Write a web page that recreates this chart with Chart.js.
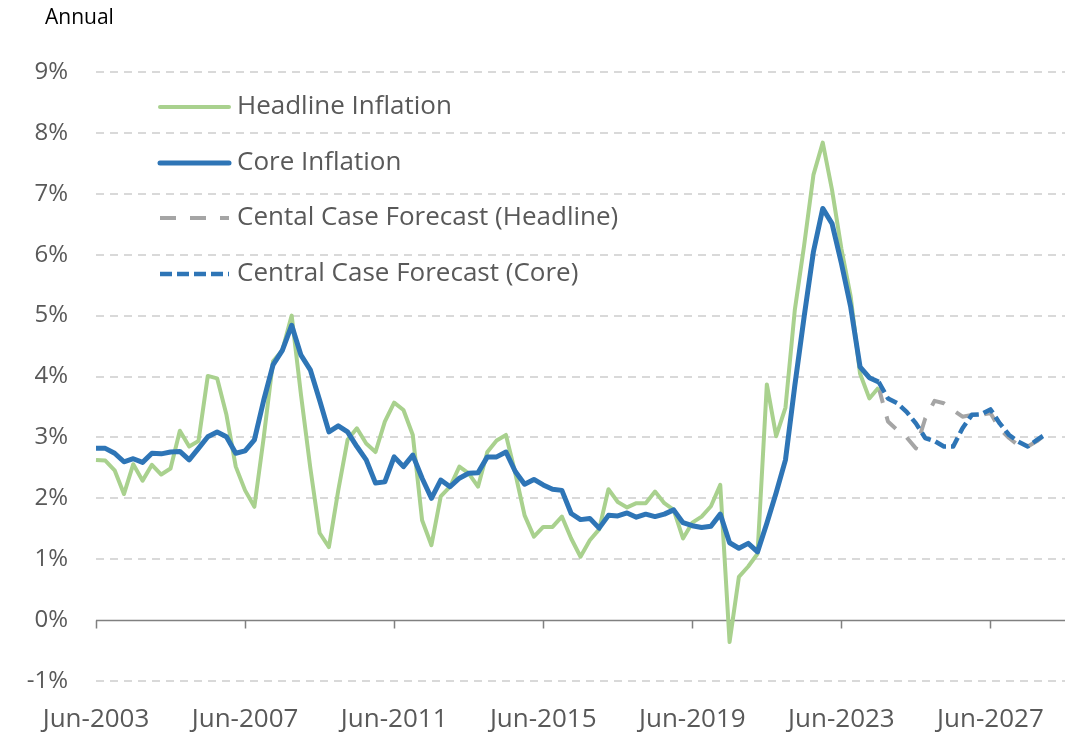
<!DOCTYPE html>
<html>
<head>
<meta charset="utf-8">
<script src="https://cdn.jsdelivr.net/npm/chart.js@4.4.1/dist/chart.umd.min.js"></script>
<style>
  html, body { margin: 0; padding: 0; background: #fff; }
</style>
</head>
<body>
<canvas id="myChart" width="1082" height="735"></canvas>
<script>
// quarterly categories, Jun-2003 .. Jun-2029
var quarterNames = ["Mar", "Jun", "Sep", "Dec"];
var quarters = [];
for (var yr = 2003; yr <= 2029; yr++) {
  for (var q = 0; q < 4; q++) {
    if (yr === 2003 && q === 0) continue;
    if (yr === 2029 && q > 1) continue;
    quarters.push(quarterNames[q] + "-" + yr);
  }
}
var xTickLabels = ["Jun-2003", "Jun-2007", "Jun-2011", "Jun-2015", "Jun-2019", "Jun-2023", "Jun-2027"];
var yTickValues = [-1, 0, 1, 2, 3, 4, 5, 6, 7, 8, 9];

// Headline Inflation, Jun-2003 .. Jun-2024
var headline = [
  2.63, 2.62, 2.46, 2.07, 2.56, 2.29, 2.55, 2.39, 2.49, 3.11, 2.85, 2.94,
  4.01, 3.97, 3.37, 2.52, 2.13, 1.86, 3.00, 4.25, 4.43, 5.00, 3.70, 2.50,
  1.43, 1.20, 2.13, 2.96, 3.15, 2.90, 2.76, 3.26, 3.57, 3.45, 3.04, 1.64,
  1.23, 2.03, 2.19, 2.52, 2.41, 2.19, 2.76, 2.95, 3.04, 2.41, 1.72, 1.37,
  1.53, 1.53, 1.70, 1.34, 1.04, 1.31, 1.49, 2.15, 1.94, 1.85, 1.92, 1.92,
  2.11, 1.92, 1.81, 1.34, 1.60, 1.70, 1.87, 2.22, -0.36, 0.71, 0.88, 1.09,
  3.87, 3.02, 3.49, 5.09, 6.15, 7.31, 7.84, 7.06, 6.10, 5.31, 4.05, 3.64,
  3.82
];
// Core Inflation, Jun-2003 .. Jun-2024
var core = [
  2.82, 2.82, 2.74, 2.60, 2.65, 2.59, 2.74, 2.73, 2.76, 2.77, 2.63, 2.82,
  3.01, 3.09, 3.01, 2.74, 2.78, 2.96, 3.61, 4.19, 4.43, 4.84, 4.35, 4.11,
  3.61, 3.09, 3.19, 3.09, 2.85, 2.63, 2.25, 2.27, 2.68, 2.52, 2.71, 2.33,
  2.00, 2.30, 2.19, 2.33, 2.41, 2.42, 2.68, 2.68, 2.76, 2.44, 2.23, 2.31,
  2.22, 2.15, 2.13, 1.75, 1.65, 1.67, 1.51, 1.72, 1.71, 1.76, 1.69, 1.74,
  1.70, 1.74, 1.81, 1.60, 1.55, 1.52, 1.54, 1.74, 1.27, 1.18, 1.26, 1.12,
  1.59, 2.09, 2.63, 3.85, 4.98, 6.05, 6.76, 6.51, 5.86, 5.14, 4.16, 3.98,
  3.91
];
// forecasts, Jun-2024 .. Dec-2028
var headlineForecast = [
  3.82, 3.26, 3.12, 3.00, 2.82, 3.31, 3.60, 3.56, 3.45, 3.34, 3.37, 3.37,
  3.40, 3.14, 2.99, 2.87, 2.85, 2.94, 3.06
];
var coreForecast = [
  3.91, 3.64, 3.56, 3.42, 3.23, 2.99, 2.94, 2.85, 2.85, 3.15, 3.37, 3.38,
  3.46, 3.23, 3.04, 2.93, 2.85, 2.96, 3.06
];
var forecastStart = quarters.indexOf("Jun-2024");

function placeForecast(values) {
  var out = quarters.map(function () { return null; });
  values.forEach(function (v, i) { out[forecastStart + i] = v; });
  return out;
}

var FONT = "'Open Sans', 'Noto Sans', sans-serif";
var TEXT = "#595959";

var legendPlugin = {
  id: "insideLegend",
  afterDatasetsDraw: function (chart) {
    var ctx = chart.ctx;
    var rows = [107, 163, 218, 274];
    ctx.save();
    chart.data.datasets.forEach(function (ds, i) {
      var y = rows[i];
      ctx.beginPath();
      ctx.strokeStyle = ds.borderColor;
      ctx.lineWidth = ds.borderWidth;
      ctx.setLineDash(ds.borderDash || []);
      ctx.lineCap = ds.borderDash ? "butt" : "round";
      ctx.moveTo(160, y);
      ctx.lineTo(229, y);
      ctx.stroke();
      ctx.setLineDash([]);
      ctx.fillStyle = TEXT;
      ctx.font = "26px " + FONT;
      ctx.textBaseline = "middle";
      ctx.textAlign = "left";
      ctx.fillText(ds.label, 237, y);
    });
    ctx.font = "21px " + FONT;
    ctx.fillStyle = "#000";
    ctx.textBaseline = "middle";
    ctx.fillText("Annual", 45, 18);
    ctx.restore();
  }
};

var zeroAxisPlugin = {
  id: "zeroAxis",
  beforeDatasetsDraw: function (chart) {
    var ctx = chart.ctx;
    var xs = chart.scales.x, ys = chart.scales.y;
    var y0 = Math.round(ys.getPixelForValue(0)) + 0.5;
    ctx.save();
    ctx.strokeStyle = "#808080";
    ctx.lineWidth = 1.5;
    ctx.beginPath();
    ctx.moveTo(chart.chartArea.left, y0);
    ctx.lineTo(chart.chartArea.right, y0);
    xTickLabels.forEach(function (lab) {
      var x = Math.round(xs.getPixelForValue(quarters.indexOf(lab))) + 0.5;
      ctx.moveTo(x, y0);
      ctx.lineTo(x, y0 + 8);
    });
    ctx.stroke();
    ctx.restore();
  }
};

new Chart("myChart", {
  type: "line",
  data: {
    labels: quarters,
    datasets: [
      {
        label: "Headline Inflation",
        data: headline,
        borderColor: "#A9D18E",
        borderWidth: 4,
        order: 2
      },
      {
        label: "Core Inflation",
        data: core,
        borderColor: "#2E75B6",
        borderWidth: 5,
        order: 0
      },
      {
        label: "Cental Case Forecast (Headline)",
        data: placeForecast(headlineForecast),
        borderColor: "#A5A5A5",
        borderWidth: 4,
        borderDash: [16, 14],
        order: 3
      },
      {
        label: "Central Case Forecast (Core)",
        data: placeForecast(coreForecast),
        borderColor: "#2E75B6",
        borderWidth: 4.5,
        borderDash: [12, 5],
        order: 1
      }
    ]
  },
  options: {
    responsive: false,
    animation: false,
    layout: { padding: { left: 0, right: 17, top: 72, bottom: 0 } },
    elements: {
      point: { radius: 0 },
      line: { tension: 0, borderJoinStyle: "round", borderCapStyle: "butt" }
    },
    plugins: {
      legend: { display: false },
      tooltip: { enabled: false }
    },
    scales: {
      x: {
        offset: false,
        grid: { display: false, drawTicks: false },
        border: { display: false },
        afterFit: function (s) { s.height = 54; },
        ticks: {
          autoSkip: false,
          maxRotation: 0,
          padding: 23,
          color: TEXT,
          font: { family: FONT, size: 26 },
          callback: function (val, idx) {
            var lab = quarters[idx];
            return xTickLabels.indexOf(lab) >= 0 ? lab : null;
          }
        }
      },
      y: {
        min: yTickValues[0],
        max: yTickValues[yTickValues.length - 1],
        afterFit: function (s) { s.width = 96; },
        afterBuildTicks: function (s) {
          s.ticks = yTickValues.map(function (v) { return { value: v }; });
        },
        grid: {
          drawTicks: false,
          lineWidth: 2,
          color: function (c) { return c.tick && c.tick.value === 0 ? "rgba(0,0,0,0)" : "#D9D9D9"; }
        },
        border: { display: false, dash: [8, 6] },
        ticks: {
          padding: 28,
          color: TEXT,
          font: { family: FONT, size: 24 },
          callback: function (v) { return v + "%"; }
        }
      }
    }
  },
  plugins: [zeroAxisPlugin, legendPlugin]
});
</script>
</body>
</html>
